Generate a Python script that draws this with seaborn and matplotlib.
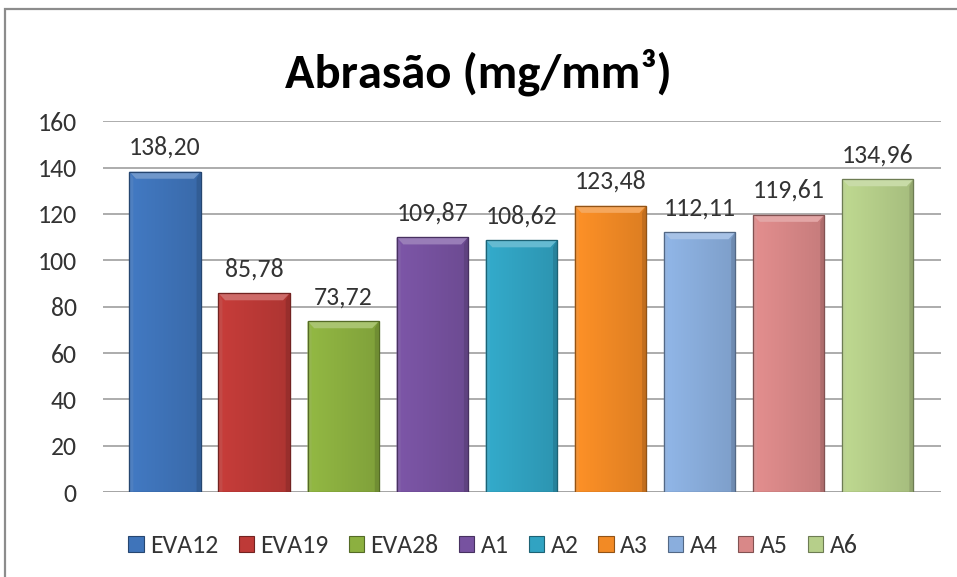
import numpy as np
import matplotlib
matplotlib.use("Agg")
import matplotlib.pyplot as plt
from matplotlib import font_manager
from matplotlib.patches import Polygon, Rectangle
from matplotlib.colors import to_rgb
import seaborn as sns

# Abrasion loss per compound
categories = ["EVA12", "EVA19", "EVA28", "A1", "A2", "A3", "A4", "A5", "A6"]
values = [138.20, 85.78, 73.72, 109.87, 108.62, 123.48, 112.11, 119.61, 134.96]
colors = ["#3F74BA", "#BE3A37", "#8CB040", "#7752A0", "#31A3C2",
          "#F28A25", "#8AAEDD", "#D98888", "#B6CF8A"]
yticks = [0, 20, 40, 60, 80, 100, 120, 140, 160]
title = "Abrasão (mg/mm³)"

sns.set_theme(style="white")
available = {f.name for f in font_manager.fontManager.ttflist}
family = [f for f in ["Carlito", "Liberation Sans Narrow", "Lato", "DejaVu Sans"] if f in available]
plt.rcParams["font.family"] = family

FS = 18.5

fig = plt.figure(figsize=(9.57, 5.77), dpi=100)
ax = fig.add_axes([0.1076, 0.147, 0.8757, 0.643])

sns.barplot(x=categories, y=values, hue=categories, palette=colors,
            legend=False, width=0.8, saturation=1, ax=ax, zorder=3)


def mix(c, other, t):
    c = np.array(to_rgb(c)); o = np.array(to_rgb(other))
    return tuple(c * (1 - t) + o * t)


ypx = 370 / 160.0  # pixels per data unit on y
for p, col, v in zip(ax.patches, colors, values):
    x0, w, h = p.get_x(), p.get_width(), p.get_height()
    x1 = x0 + w
    p.set_edgecolor(mix(col, "black", 0.35))
    p.set_linewidth(0.8)
    # horizontal shading across the bar face
    t = np.linspace(0, 1, 64)
    shade = 1.05 - 0.14 * t
    base = np.array(to_rgb(col))
    row = np.clip(base[None, :] * shade[:, None], 0, 1)
    img = np.repeat(row[None, :, :], 2, axis=0)
    im = ax.imshow(img, extent=[x0, x1, 0, h], aspect="auto", origin="lower",
                   zorder=3.1, interpolation="bilinear")
    im.set_clip_path(p)
    dx, dy = 0.075, 7 / ypx
    top = Polygon([(x0, h), (x1, h), (x1 - dx, h - dy), (x0 + dx, h - dy)],
                  closed=True, facecolor=mix(col, "white", 0.25), edgecolor="none", zorder=3.2)
    left = Polygon([(x0, 0), (x0, h), (x0 + dx * 0.6, h - dy), (x0 + dx * 0.6, 0)],
                   closed=True, facecolor=mix(col, "white", 0.08), edgecolor="none", zorder=3.2)
    right = Polygon([(x1, 0), (x1, h), (x1 - dx * 0.6, h - dy), (x1 - dx * 0.6, 0)],
                    closed=True, facecolor=mix(col, "black", 0.2), edgecolor="none", zorder=3.2)
    for poly in (top, left, right):
        ax.add_patch(poly)
    outline = Rectangle((x0, 0), w, h, fill=False, edgecolor=mix(col, "black", 0.4),
                        linewidth=0.9, zorder=3.3)
    ax.add_patch(outline)
    ax.text(x0 + w / 2, h + 17 / ypx, f"{v:.2f}".replace(".", ","),
            ha="center", va="baseline", fontsize=FS, color="#333333", zorder=4)

ax.set_xlim(-0.696, 8.71)
ax.set_ylim(0, 160)
ax.set_yticks(yticks)
ax.set_xticks([])
ax.set_xlabel("")
ax.set_ylabel("")
ax.tick_params(axis="y", length=0, pad=19, labelsize=FS, labelcolor="#333333")
ax.yaxis.grid(True, color="#A6A6A6", linewidth=1.3, zorder=0)
ax.set_axisbelow(True)
for s in ax.spines.values():
    s.set_visible(False)
ax.axhline(0, color="#A6A6A6", linewidth=1.3, zorder=2)

fig.text(0.5, 0.875, title, ha="center", va="center", fontsize=35,
         fontweight="bold", color="black")

handles = [Rectangle((0, 0), 1, 1, facecolor=c, edgecolor=mix(c, "black", 0.4), linewidth=0.8)
           for c in colors]
fig.legend(handles, categories, loc="center", bbox_to_anchor=(0.515, 0.054),
           ncol=9, frameon=False, fontsize=FS, handlelength=0.6, handleheight=0.6,
           handletextpad=0.25, columnspacing=0.78, labelcolor="#333333")

# chart border
fig.patches.append(Rectangle((5 / 957, -0.05), 1.2, 1 - 9 / 577 + 0.05,
                             transform=fig.transFigure, fill=False,
                             edgecolor="#8C8C8C", linewidth=1.6))

fig.savefig("out.png", dpi=100)
